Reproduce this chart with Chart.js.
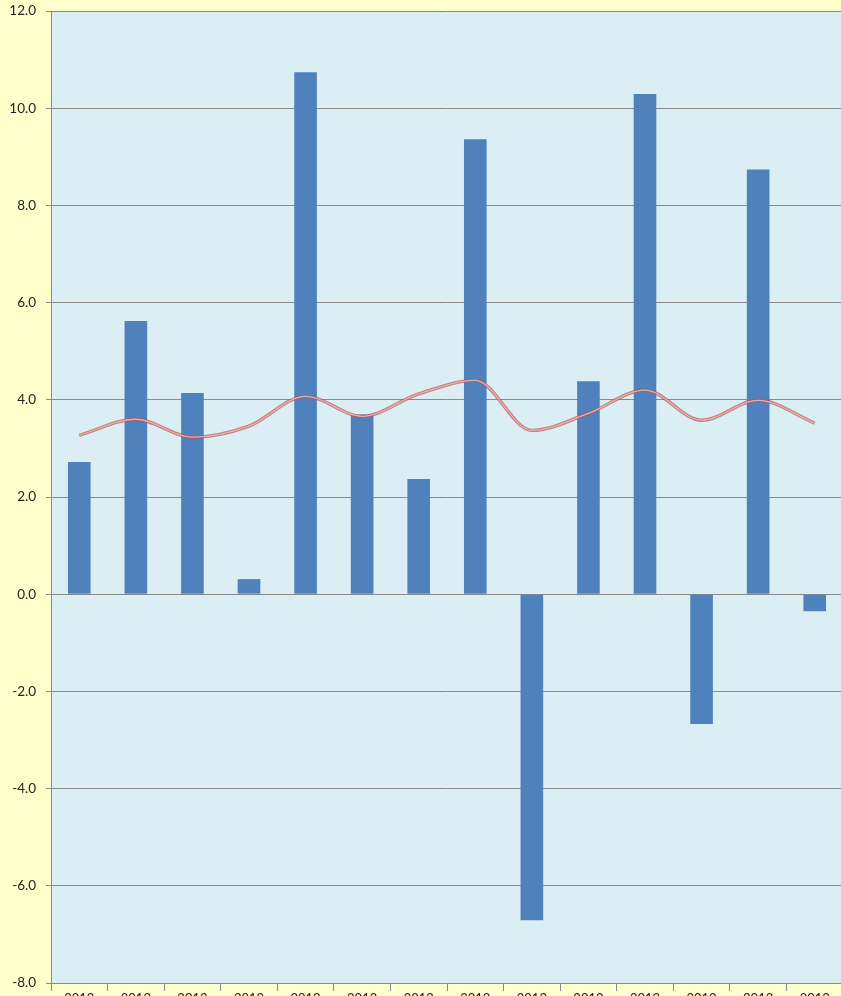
<!DOCTYPE html>
<html><head><meta charset="utf-8">
<script src="https://cdn.jsdelivr.net/npm/chart.js@4.4.1/dist/chart.umd.min.js"></script>
<style>
html,body{margin:0;padding:0;background:#FFFFCC;overflow:hidden;}
#wrap{position:absolute;left:0;top:0;width:845px;height:996px;}
</style></head>
<body><div id="wrap"><canvas id="c" width="845" height="996"></canvas></div>
<script>
const categories = ['2012','2012','2012','2012','2012','2012','2012','2012','2012','2012','2012','2012','2013','2013'];
const barValues = [2.72, 5.62, 4.14, 0.31, 10.74, 3.70, 2.37, 9.36, -6.71, 4.38, 10.29, -2.67, 8.74, -0.35];
const lineValues = [3.27, 3.60, 3.23, 3.46, 4.07, 3.66, 4.12, 4.40, 3.37, 3.72, 4.20, 3.58, 3.99, 3.52];
const yTicks = [-8, -6, -4, -2, 0, 2, 4, 6, 8, 10, 12];

const plotBg = {
  id: 'plotBg',
  beforeDraw(chart) {
    const {ctx, chartArea: a} = chart;
    ctx.save();
    ctx.fillStyle = '#DBEEF4';
    ctx.fillRect(a.left, a.top, a.right - a.left, a.bottom - a.top);
    ctx.restore();
  }
};

new Chart(document.getElementById('c'), {
  type: 'bar',
  data: {
    labels: categories,
    datasets: [
      { type: 'line', data: lineValues, borderColor: 'rgba(225,178,176,1)', borderWidth: 1.3, pointRadius: 0, tension: 0.4, cubicInterpolationMode: 'monotone', order: 0 },
      { type: 'line', data: lineValues, borderColor: 'rgba(192,80,77,0.7)', borderWidth: 3.4, pointRadius: 0, tension: 0.4, cubicInterpolationMode: 'monotone', order: 1 },
      { type: 'bar', data: barValues, backgroundColor: '#4F81BD', barPercentage: 0.4, categoryPercentage: 1.0, order: 2 }
    ]
  },
  options: {
    responsive: false,
    animation: false,
    layout: { padding: { top: 0, right: 2, left: 0, bottom: 0 } },
    plugins: { legend: { display: false }, tooltip: { enabled: false } },
    scales: {
      x: {
        offset: true,
        grid: { offset: true, drawOnChartArea: false, drawTicks: true, tickLength: 8, color: '#8A8A8A' },
        border: { color: '#8A8A8A', width: 1 },
        ticks: { color: '#222', font: { family: 'Lato', size: 13 }, padding: 0, maxRotation: 0, autoSkip: false },
        afterFit(s) { s.height = 13; }
      },
      y: {
        min: -8, max: 12,
        afterBuildTicks(s) { s.ticks = yTicks.map(v => ({ value: v })); },
        grid: { color: '#8A8A8A', tickLength: 5, drawTicks: true },
        border: { color: '#8A8A8A', width: 1 },
        ticks: { color: '#222', font: { family: 'Lato', size: 13.5 }, padding: 10, callback: v => Number(v).toFixed(1) },
        afterFit(s) { s.width = 51; s.paddingTop = 11; s.paddingBottom = 13; }
      }
    }
  },
  plugins: [plotBg]
});
</script></body></html>
